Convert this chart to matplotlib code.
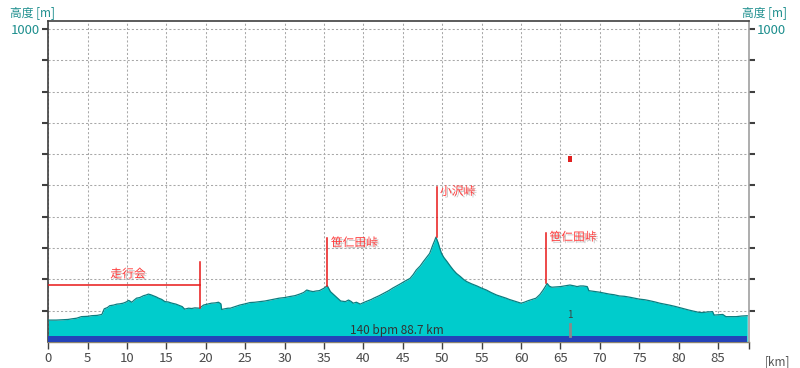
import matplotlib
matplotlib.use("Agg")
import matplotlib.pyplot as plt
import matplotlib.patheffects as pe

plt.rcParams['font.family'] = ['Noto Sans CJK JP', 'DejaVu Sans']

# ---- data ----
km = [0.0, 1.0, 2.5, 3.0, 3.6, 4.2, 5.0, 5.5, 6.2, 6.8, 7.1, 7.5, 7.8, 8.3, 8.7, 9.1, 9.5, 9.9,
      10.2, 10.6, 10.9, 11.2, 11.6, 12.1, 12.4, 12.7, 13.0, 13.3, 13.7, 14.0, 14.4, 14.8, 15.2,
      15.7, 16.2, 16.7, 17.0, 17.3, 17.8, 18.2, 18.6, 19.2, 19.7, 20.2, 20.7, 21.2, 21.6, 21.9,
      22.0, 22.8, 23.1, 23.7, 24.3, 25.0, 25.6, 26.2, 26.8, 27.5, 28.1, 28.7, 29.3, 30.0, 30.6,
      31.3, 31.9, 32.4, 32.8, 33.2, 33.6, 34.0, 34.4, 35.0, 35.4, 35.8, 36.1, 36.4, 36.8, 37.1,
      37.7, 38.1, 38.4, 38.7, 39.1, 39.6, 40.0, 40.5, 41.0, 41.3, 42.0, 42.6, 43.2, 43.7, 44.2,
      44.7, 45.3, 45.9, 46.3, 46.7, 47.2, 47.6, 48.0, 48.4, 48.8, 49.0, 49.2, 49.4, 49.5, 49.7,
      49.9, 50.2, 50.6, 51.0, 51.4, 51.8, 52.3, 52.7, 53.1, 53.7, 54.4, 55.0, 55.6, 56.2, 56.9,
      57.5, 58.1, 58.5, 59.0, 59.5, 60.0, 60.4, 60.9, 61.4, 61.9, 62.4, 62.8, 63.1, 63.3, 63.6,
      63.9, 64.4, 65.0, 65.5, 66.2, 66.8, 67.1, 67.5, 67.9, 68.4, 68.6, 69.2, 70.0, 70.6, 71.2,
      71.8, 72.5, 73.1, 73.8, 74.4, 75.0, 75.7, 76.3, 77.0, 77.6, 78.2, 78.8, 79.5, 80.1, 80.7,
      81.3, 82.0, 82.5, 83.0, 83.7, 84.3, 84.5, 85.0, 85.6, 86.0, 86.7, 87.3, 88.0, 88.7]
elev = [70, 70, 72, 74, 76, 81, 82, 84, 85, 88, 106, 110, 116, 118, 121, 122, 124, 128,
        133, 127, 134, 140, 142, 148, 150, 153, 151, 148, 144, 140, 136, 129, 128,
        124, 121, 116, 113, 105, 108, 107, 109, 108, 118, 121, 124, 125, 127, 122,
        104, 108, 108, 113, 118, 122, 126, 127, 129, 131, 134, 137, 140, 142, 145,
        148, 153, 158, 166, 163, 161, 163, 164, 172, 180, 161, 154, 147, 138, 131,
        129, 134, 130, 124, 127, 121, 126, 131, 136, 140, 148, 156, 164, 172, 179,
        186, 195, 203, 215, 230, 243, 257, 270, 283, 310, 322, 335, 322, 315, 298,
        283, 270, 257, 243, 230, 219, 209, 200, 193, 186, 179, 172, 166, 158, 150,
        145, 140, 136, 132, 128, 124, 127, 132, 136, 140, 152, 166, 178, 187, 178,
        175, 176, 177, 179, 182, 179, 177, 179, 179, 177, 164, 162, 159, 156, 153,
        151, 147, 146, 143, 140, 137, 135, 132, 128, 124, 121, 118, 114, 110, 106,
        102, 98, 95, 94, 96, 97, 86, 87, 88, 81, 81, 81, 83, 84]

total_km = 88.7
hr_band_top = 20
xticks = list(range(0, 90, 5))
yticks = list(range(100, 1001, 100))

# landmark labels: (text, line km, line bottom, line top, text km, text elev)
landmarks = [
    ("笹仁田峠", 35.4, 180, 331, 35.85, 317),
    ("小沢峠", 49.3, 335, 496, 49.7, 481),
    ("笹仁田峠", 63.2, 187, 349, 63.6, 335),
]
section_label = "走行会"
section_end_km = 19.2
section_level = 182
section_top = 256
section_bottom = 108

marker_km = 66.2
info_text = "140 bpm 88.7 km"

# ---- figure ----
fig = plt.figure(figsize=(8, 3.68), dpi=100)
ax = fig.add_axes([48.3 / 800, 26 / 368, 700.5 / 800, 321 / 368])
xmax = 88.9
ymax = 1025.5
ax.set_xlim(0, xmax)
ax.set_ylim(0, ymax)

teal = "#1E8F8E"
tickc = "#404040"
gridc = "#A8A8A8"

ax.set_xticks(xticks)
ax.set_xticklabels([str(t) for t in xticks], fontsize=9.5, color="#4A4A4A")
ax.set_xticks([xmax], minor=True)
ax.set_yticks(yticks)
ax.set_yticklabels(['' for _ in yticks[:-1]] + ['1000'], fontsize=9.5, color=teal)
ax.tick_params(axis='x', which='both', direction='out', length=5, width=1, color=tickc, pad=2)
ax.tick_params(axis='y', direction='out', length=4.5, width=1.5, color=tickc, pad=1.5,
               left=True, right=True, labelleft=True, labelright=True)

ax.grid(True, which='major', color=gridc, linestyle=(0, (2, 2)), linewidth=0.75, zorder=0)
ax.set_axisbelow(True)

for s in ['left', 'top']:
    ax.spines[s].set_color('#404040')
    ax.spines[s].set_linewidth(1.2)
ax.spines['right'].set_color('#A0A0A0')
ax.spines['right'].set_linewidth(1.2)
ax.spines['bottom'].set_color('#8C8470')
ax.spines['bottom'].set_linewidth(1.0)

# elevation profile
ax.fill_between(km, elev, 0, color='#00CCCC', linewidth=0, zorder=2)
ax.plot(km, elev, color='#0A7E80', linewidth=0.9, zorder=3)
# heart-rate band
ax.fill_between([0, total_km], 0, hr_band_top, color='#2443B8', linewidth=0, zorder=4)

shadow = [pe.SimplePatchShadow(offset=(1.2, -1.2), shadow_rgbFace='#888888', alpha=0.45), pe.Normal()]
red = '#E81818'
txtred = '#FF3B3B'

# section label
ax.plot([0, section_end_km], [section_level, section_level], color=red, lw=1.1, zorder=5)
ax.plot([section_end_km, section_end_km], [section_bottom, section_top], color=red, lw=1.1, zorder=5)
ax.text(10.1, 217, section_label, color=txtred, fontsize=8.5, ha='center', va='center',
        zorder=6, path_effects=shadow)

for name, lk, lb, lt, tk, te in landmarks:
    ax.plot([lk, lk], [lb, lt], color=red, lw=1.1, zorder=5)
    ax.text(tk, te, name, color=txtred, fontsize=8.5, ha='left', va='center',
            zorder=6, path_effects=shadow)

# marker
ax.bar([marker_km], [19], bottom=576, width=0.4, color='#E02020', zorder=5)
ax.plot([marker_km, marker_km], [20, 57], color='#8A8A8A', lw=2, zorder=5)
ax.text(marker_km, 87, "1", color='#404040', fontsize=7, ha='center', va='center', zorder=6)
ax.text(44.2, 36, info_text, color='#333333', fontsize=8.5, ha='center', va='center', zorder=6)

# axis titles
fig.text(10 / 800, 1 - 13 / 368, "高度 [m]", color=teal, fontsize=8.5, ha='left', va='center')
fig.text(787 / 800, 1 - 13 / 368, "高度 [m]", color=teal, fontsize=8.5, ha='right', va='center')
fig.text(777 / 800, 1 - 362 / 368, "[km]", color='#555555', fontsize=8.5, ha='center', va='center')

fig.savefig("out.png", dpi=100)
